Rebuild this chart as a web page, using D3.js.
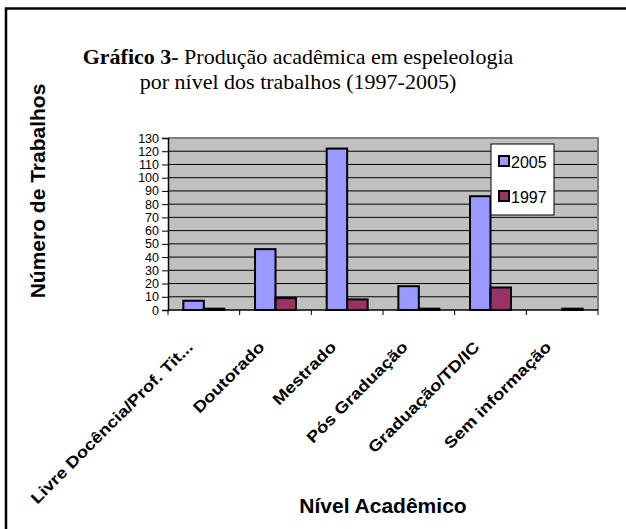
<!DOCTYPE html>
<html>
<head>
<meta charset="utf-8">
<script src="https://cdn.jsdelivr.net/npm/d3@7"></script>
<style>
  body { margin: 0; background: #fff; }
  svg { display: block; }
</style>
</head>
<body>
<div id="chart"></div>
<script>
const categories = ['Livre Docência/Prof. Tit...', 'Doutorado', 'Mestrado', 'Pós Graduação', 'Graduação/TD/IC', 'Sem informação'];
const series = ['2005', '1997'];
const values2005 = [7, 46, 122, 18, 86, 0];
const values1997 = [1, 9, 8, 1, 17, 1];
const yTicks = d3.range(0, 131, 10);
const colors = { 2005: '#9999ff', 1997: '#993366' };

const W = 626;
const H = 529;
const margin = { top: 138, right: 28, bottom: 219, left: 168 };
const width = W - margin.left - margin.right;
const height = H - margin.top - margin.bottom;
const sans = '"Liberation Sans", Arial, sans-serif';

const rows = categories.map((c, i) => ({ cat: c, 2005: values2005[i], 1997: values1997[i] }));

const svg = d3.select('#chart').append('svg')
  .attr('width', W)
  .attr('height', H);

// outer frame (only top and left edges are visible in the crop)
svg.append('path')
  .attr('d', `M6,${H} V8.5 H${W}`)
  .attr('fill', 'none')
  .attr('stroke', '#000')
  .attr('stroke-width', 2.5);

// title
const title = svg.append('text')
  .attr('text-anchor', 'middle')
  .style('font-family', '"Liberation Serif", "Times New Roman", serif')
  .style('font-size', '22px');
const l1 = title.append('tspan').attr('x', 298).attr('y', 64);
l1.append('tspan').style('font-weight', 'bold').text('Gráfico 3-');
l1.append('tspan').text(' Produção acadêmica em espeleologia');
title.append('tspan').attr('x', 298).attr('y', 89).text('por nível dos trabalhos (1997-2005)');

const g = svg.append('g')
  .attr('transform', `translate(${margin.left},${margin.top})`);

const x0 = d3.scaleBand().domain(categories).range([0, width]);
const x1 = d3.scaleBand().domain(series).range([0, x0.bandwidth()]).paddingOuter(0.75);
const y = d3.scaleLinear().domain([0, 130]).range([height, 0]);

// plot area
g.append('rect')
  .attr('width', width)
  .attr('height', height)
  .attr('fill', '#c0c0c0');

// gridlines
g.append('g')
  .selectAll('line')
  .data(yTicks.filter((d) => d > 0 && d < 130))
  .join('line')
  .attr('x1', 0)
  .attr('x2', width)
  .attr('y1', (d) => y(d))
  .attr('y2', (d) => y(d))
  .attr('stroke', '#000')
  .attr('stroke-width', 1);

// plot border top/right
g.append('path')
  .attr('d', `M0,0 H${width} V${height}`)
  .attr('fill', 'none')
  .attr('stroke', '#808080')
  .attr('stroke-width', 2);

// bars
g.append('g')
  .selectAll('g')
  .data(rows)
  .join('g')
  .attr('transform', (d) => `translate(${x0(d.cat)},0)`)
  .selectAll('rect')
  .data((d) => series.map((s) => ({ key: s, value: d[s] })))
  .join('rect')
  .attr('x', (d) => x1(d.key))
  .attr('width', x1.bandwidth())
  .attr('y', (d) => y(d.value))
  .attr('height', (d) => height - y(d.value))
  .attr('fill', (d) => colors[d.key])
  .attr('stroke', '#000')
  .attr('stroke-width', 2);

// y axis
const yAxis = g.append('g')
  .call(d3.axisLeft(y).tickValues(yTicks).tickSize(6).tickPadding(3));
yAxis.select('.domain').attr('stroke-width', 1.5);
yAxis.selectAll('text')
  .style('font-family', sans)
  .style('font-size', '12.5px')
  .attr('fill', '#000');

// x axis with ticks at category boundaries
const xAxis = g.append('g')
  .attr('transform', `translate(0,${height})`);
xAxis.append('line')
  .attr('x1', 0)
  .attr('x2', width)
  .attr('stroke', '#000')
  .attr('stroke-width', 1.5);
xAxis.selectAll('.tick')
  .data(categories.concat(['end']))
  .join('line')
  .attr('class', 'tick')
  .attr('x1', (d) => (d === 'end' ? width : x0(d)))
  .attr('x2', (d) => (d === 'end' ? width : x0(d)))
  .attr('y1', 0)
  .attr('y2', 5)
  .attr('stroke', '#000');
// labels look slightly flattened in the original, hence the scale
xAxis.selectAll('.lbl')
  .data(categories)
  .join('text')
  .attr('class', 'lbl')
  .attr('transform', (d) => `translate(${x0(d) + x0.bandwidth() / 2 - 10},38) rotate(-45) scale(1,0.85)`)
  .attr('text-anchor', 'end')
  .style('font-family', sans)
  .style('font-size', '18.5px')
  .style('font-weight', 'bold')
  .text((d) => d);

// axis titles
svg.append('text')
  .attr('transform', 'translate(45,191) rotate(-90)')
  .attr('text-anchor', 'middle')
  .style('font-family', sans)
  .style('font-size', '21px')
  .style('font-weight', 'bold')
  .text('Número de Trabalhos');

svg.append('text')
  .attr('x', 383)
  .attr('y', 513)
  .attr('text-anchor', 'middle')
  .style('font-family', sans)
  .style('font-size', '21px')
  .style('font-weight', 'bold')
  .text('Nível Acadêmico');

// legend
const legend = svg.append('g').attr('transform', 'translate(491,144)');
legend.append('rect')
  .attr('width', 63)
  .attr('height', 71)
  .attr('fill', '#fff')
  .attr('stroke', '#000')
  .attr('stroke-width', 1);
const item = legend.selectAll('.item')
  .data(series)
  .join('g')
  .attr('class', 'item')
  .attr('transform', (d, i) => `translate(8,${12 + i * 35})`);
item.append('rect')
  .attr('width', 10)
  .attr('height', 10)
  .attr('fill', (d) => colors[d])
  .attr('stroke', '#000')
  .attr('stroke-width', 2);
item.append('text')
  .attr('x', 12)
  .attr('y', 12)
  .style('font-family', sans)
  .style('font-size', '16px')
  .text((d) => d);
</script>
</body>
</html>
